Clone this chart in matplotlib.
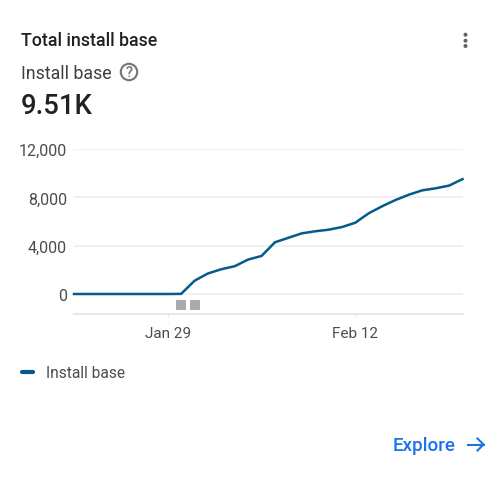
import numpy as np
import matplotlib
matplotlib.use("Agg")
import matplotlib.pyplot as plt
import matplotlib.dates as mdates
from matplotlib.patches import Circle
from matplotlib.ticker import FixedLocator, FuncFormatter
from datetime import date, timedelta

plt.rcParams['font.family'] = ['Roboto', 'DejaVu Sans']

W, H = 504, 485
start_date = date(2024, 1, 22)
values = [0, 0, 0, 0, 0, 0, 0, 0, 10, 1100, 1700, 2050, 2300, 2850, 3150, 4280,
          4650, 5020, 5190, 5320, 5540, 5900, 6680, 7260, 7780, 8220, 8580, 8750, 8970, 9510]
dates = [start_date + timedelta(days=i) for i in range(len(values))]
y_ticks = [0, 4000, 8000, 12000]
x_ticks = [date(2024, 1, 29), date(2024, 2, 12)]
x_labels = ["Jan 29", "Feb 12"]
marker_dates = [date(2024, 1, 30), date(2024, 1, 31)]
series_name = "Install base"
title = "Total install base"
metric = "9.51K"
link = "Explore"

LINE = "#045a8d"
GRID = "#f0f0f3"
TXT = "#3c4043"
DARK = "#202124"
BLUE = "#1a73e8"

fig = plt.figure(figsize=(W/100, H/100), dpi=100, facecolor="white")

def fx(p): return p / W
def fy(p): return 1 - p / H

left, right, top, bottom = 74, 462.5, 150, 314.5
ax = fig.add_axes([fx(left), fy(bottom), fx(right-left), (bottom-top)/H])
ax.set_facecolor("none")
ax.plot(dates, values, color=LINE, lw=1.8, solid_joinstyle="round", clip_on=False, zorder=3)
ax.set_xlim(dates[0], dates[-1])
y_per_px = 12000 / 145
ax.set_ylim(-(bottom-295)*y_per_px, 12000)
ax.yaxis.set_major_locator(FixedLocator(y_ticks))
ax.yaxis.set_major_formatter(FuncFormatter(lambda v, _: f"{int(v):,}"))
ax.set_xticks([mdates.date2num(d) for d in x_ticks], x_labels)
ax.grid(axis="y", color=GRID, lw=1.4)
ax.set_axisbelow(True)
for s in ["top", "left", "right"]:
    ax.spines[s].set_visible(False)
ax.spines["bottom"].set_color("#e8e8ec")
ax.spines["bottom"].set_linewidth(1.4)
ax.tick_params(axis="y", length=0, pad=5, labelsize=11.5, labelcolor="#4a4d50")
ax.tick_params(axis="x", length=3, width=1, color="#eeeeee", pad=6, labelsize=11, labelcolor="#4a4d50")

# annotation squares below zero line
for d in marker_dates:
    ax.plot([d], [-(305.5-295)*y_per_px], marker="s", ms=7.6, color="#a9abad", mew=0, clip_on=False, zorder=2)

# header
fig.text(fx(21), fy(41.5), title, fontsize=12.8, fontweight="medium", color=DARK, va="center", ha="left")
fig.text(fx(21), fy(74), series_name, fontsize=12.8, color=TXT, va="center", ha="left")
fig.text(fx(21), fy(107), metric, fontsize=19.8, fontweight="medium", color=DARK, va="center", ha="left")

# help icon
cx, cy = 129, 73
fig.add_artist(Circle((cx, H-cy), 8.2, transform=None, fill=False, ec="#70757a", lw=1.5))
fig.text(fx(cx), fy(cy-0.3), "?", fontsize=10.5, fontweight="medium", color="#70757a", ha="center", va="center")

# menu dots
for yy in (35.7, 41.7, 47):
    fig.add_artist(Circle((465.5, H-yy), 2.0, transform=None, fc="#5f6368", ec="none"))

# legend
fig.add_artist(plt.Line2D([fx(22), fx(33)], [fy(372.5)]*2, color=LINE, lw=3, solid_capstyle="round"))
fig.text(fx(46), fy(373.5), series_name, fontsize=11.2, color="#4a4d50", va="center", ha="left")

# explore link
fig.text(fx(393), fy(446), link, fontsize=13.5, fontweight="medium", color=BLUE, va="center", ha="left")
fig.add_artist(plt.Line2D([fx(468), fx(483.5)], [fy(445.5)]*2, color=BLUE, lw=1.5))
fig.add_artist(plt.Line2D([fx(477.5), fx(483.5), fx(477.5)], [fy(439.5), fy(445.5), fy(451.5)], color=BLUE, lw=1.5))

fig.savefig("out.png", dpi=100, facecolor="white")
